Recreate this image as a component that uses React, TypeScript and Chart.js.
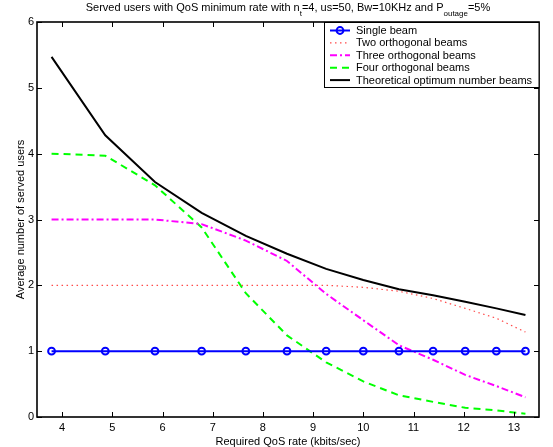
import React, { useEffect, useRef } from 'react';
import { Chart, registerables } from 'chart.js';

Chart.register(...registerables);

const rates = [3.79, 4.86, 5.85, 6.78, 7.66, 8.48, 9.26, 10.0, 10.71, 11.39, 12.03, 12.65, 13.23];
const singleBeam = [1, 1, 1, 1, 1, 1, 1, 1, 1, 1, 1, 1, 1];
const twoBeams = [2, 2, 2, 2, 2, 2, 2, 1.97, 1.91, 1.8, 1.65, 1.5, 1.29];
const threeBeams = [3, 3, 3, 2.93, 2.68, 2.37, 1.87, 1.47, 1.09, 0.87, 0.64, 0.47, 0.3];
const fourBeams = [4, 3.97, 3.52, 2.88, 1.88, 1.24, 0.83, 0.54, 0.33, 0.23, 0.14, 0.1, 0.05];
const optimumBeams = [5.47, 4.28, 3.57, 3.1, 2.75, 2.48, 2.25, 2.08, 1.94, 1.85, 1.75, 1.65, 1.55];

const seriesLabels = [
  'Single beam',
  'Two orthogonal beams',
  'Three orthogonal beams',
  'Four orthogonal beams',
  'Theoretical optimum number beams',
];
const xTicks = [4, 5, 6, 7, 8, 9, 10, 11, 12, 13];
const yTicks = [0, 1, 2, 3, 4, 5, 6];
const titleParts: [string, boolean][] = [
  ['Served users with QoS minimum rate with n', false],
  ['t', true],
  ['=4, us=50, Bw=10KHz and P', false],
  ['outage', true],
  ['=5%', false],
];
const xTitle = 'Required QoS rate (kbits/sec)';
const yTitle = 'Average number of served users';

const FONT = '"Liberation Sans", Arial, sans-serif';

const toPoints = (vals: number[]) => vals.map((v, i) => ({ x: rates[i], y: v }));

const decorPlugin = {
  id: 'decor',
  afterDatasetsDraw(chart: any) {
    const { ctx, chartArea, scales } = chart;
    const { left, right, top, bottom } = chartArea;
    const xs = scales.x;
    const ys = scales.y;
    ctx.save();
    // inner ticks on all sides
    ctx.strokeStyle = '#000';
    ctx.lineWidth = 1;
    ctx.setLineDash([]);
    ctx.beginPath();
    xs.ticks.forEach((t: any) => {
      const px = Math.round(xs.getPixelForValue(t.value)) + 0.5;
      ctx.moveTo(px, bottom);
      ctx.lineTo(px, bottom - 5);
      ctx.moveTo(px, top);
      ctx.lineTo(px, top + 5);
    });
    ys.ticks.forEach((t: any) => {
      const py = Math.round(ys.getPixelForValue(t.value)) + 0.5;
      ctx.moveTo(left, py);
      ctx.lineTo(left + 5, py);
      ctx.moveTo(right, py);
      ctx.lineTo(right - 5, py);
    });
    ctx.stroke();
    // box
    ctx.lineWidth = 1.6;
    ctx.strokeRect(left, top, right - left, bottom - top);

    // legend
    const lw = 215;
    const lh = 65;
    const lx0 = right - lw;
    const ly0 = top;
    ctx.fillStyle = '#fff';
    ctx.fillRect(lx0, ly0, lw, lh);
    ctx.lineWidth = 1;
    ctx.strokeStyle = '#000';
    ctx.strokeRect(lx0 + 0.5, ly0 + 0.5, lw - 0.5, lh);
    ctx.font = `11px ${FONT}`;
    ctx.textBaseline = 'middle';
    ctx.textAlign = 'left';
    chart.data.datasets.forEach((ds: any, i: number) => {
      const ry = ly0 + 8.5 + i * 12.4;
      ctx.save();
      ctx.strokeStyle = ds.borderColor;
      ctx.lineWidth = ds.borderWidth;
      ctx.setLineDash(ds.borderDash || []);
      ctx.beginPath();
      ctx.moveTo(lx0 + 6, ry);
      ctx.lineTo(lx0 + 26, ry);
      ctx.stroke();
      if (ds.pointRadius > 0) {
        ctx.setLineDash([]);
        ctx.lineWidth = ds.pointBorderWidth;
        ctx.beginPath();
        ctx.arc(lx0 + 16, ry, ds.pointRadius, 0, Math.PI * 2);
        ctx.stroke();
      }
      ctx.restore();
      ctx.fillStyle = '#000';
      ctx.fillText(ds.label, lx0 + 32, ry + 0.5);
    });

    // title with subscripts
    const mainFont = `11px ${FONT}`;
    const subFont = `8px ${FONT}`;
    let total = 0;
    titleParts.forEach(([txt, sub]) => {
      ctx.font = sub ? subFont : mainFont;
      total += ctx.measureText(txt).width;
    });
    let cx = (left + right) / 2 - total / 2;
    const baseY = 11;
    ctx.textBaseline = 'alphabetic';
    ctx.fillStyle = '#000';
    titleParts.forEach(([txt, sub]) => {
      ctx.font = sub ? subFont : mainFont;
      ctx.fillText(txt, cx, sub ? baseY + 4.5 : baseY);
      cx += ctx.measureText(txt).width;
    });
    ctx.restore();
  },
};

export default function App() {
  const canvasRef = useRef<HTMLCanvasElement | null>(null);

  useEffect(() => {
    if (!canvasRef.current) return;
    Chart.defaults.font.family = FONT;
    const chart = new Chart(canvasRef.current, {
      type: 'line',
      data: {
        datasets: [
          {
            label: seriesLabels[0],
            data: toPoints(singleBeam),
            borderColor: '#0000ff',
            backgroundColor: '#0000ff',
            borderWidth: 2,
            pointRadius: 3.4,
            pointBorderWidth: 2,
            pointBackgroundColor: 'rgba(0,0,0,0)',
            pointBorderColor: '#0000ff',
            pointHoverRadius: 3.4,
          },
          {
            label: seriesLabels[1],
            data: toPoints(twoBeams),
            borderColor: '#ff4a4a',
            borderWidth: 1.2,
            borderDash: [1.5, 3.5],
            pointRadius: 0,
          },
          {
            label: seriesLabels[2],
            data: toPoints(threeBeams),
            borderColor: '#ff00ff',
            borderWidth: 2,
            borderDash: [7, 3, 2, 3],
            pointRadius: 0,
          },
          {
            label: seriesLabels[3],
            data: toPoints(fourBeams),
            borderColor: '#00ff00',
            borderWidth: 2,
            borderDash: [7, 5],
            pointRadius: 0,
          },
          {
            label: seriesLabels[4],
            data: toPoints(optimumBeams),
            borderColor: '#000000',
            borderWidth: 2,
            pointRadius: 0,
          },
        ] as any,
      },
      options: {
        animation: false,
        responsive: false,
        devicePixelRatio: 1,
        layout: { padding: { top: 22, right: 14, left: 0, bottom: 0 } },
        plugins: {
          legend: { display: false },
          title: { display: false },
          tooltip: { enabled: false },
        },
        elements: { line: { tension: 0 } },
        scales: {
          x: {
            type: 'linear',
            min: 3.5,
            max: 13.5,
            afterBuildTicks: (s: any) => {
              s.ticks = xTicks.map((v) => ({ value: v }));
            },
            afterFit: (s: any) => {
              s.height = 30;
            },
            grid: { display: false, drawTicks: false },
            border: { display: false },
            ticks: {
              color: '#000',
              font: { size: 11, family: FONT },
              padding: 4,
              maxRotation: 0,
              autoSkip: false,
            },
            title: {
              display: true,
              text: xTitle,
              color: '#000',
              font: { size: 11, family: FONT, lineHeight: 1 },
              padding: { top: 0, bottom: 0 },
            },
          },
          y: {
            type: 'linear',
            min: 0,
            max: 6,
            afterBuildTicks: (s: any) => {
              s.ticks = yTicks.map((v) => ({ value: v }));
            },
            afterFit: (s: any) => {
              s.width = 37;
            },
            grid: { display: false, drawTicks: false },
            border: { display: false },
            ticks: {
              color: '#000',
              font: { size: 11, family: FONT },
              padding: 3,
              autoSkip: false,
            },
            title: {
              display: true,
              text: yTitle,
              color: '#000',
              font: { size: 11, family: FONT, lineHeight: 1 },
              padding: { top: 15, bottom: 0 },
            },
          },
        },
      },
      plugins: [decorPlugin],
    } as any);
    return () => chart.destroy();
  }, []);

  return (
    <div style={{ position: 'fixed', left: 0, top: 0, width: 553, height: 447, background: '#fff' }}>
      <canvas ref={canvasRef} width={553} height={447} style={{ width: 553, height: 447, display: 'block' }} />
    </div>
  );
}
